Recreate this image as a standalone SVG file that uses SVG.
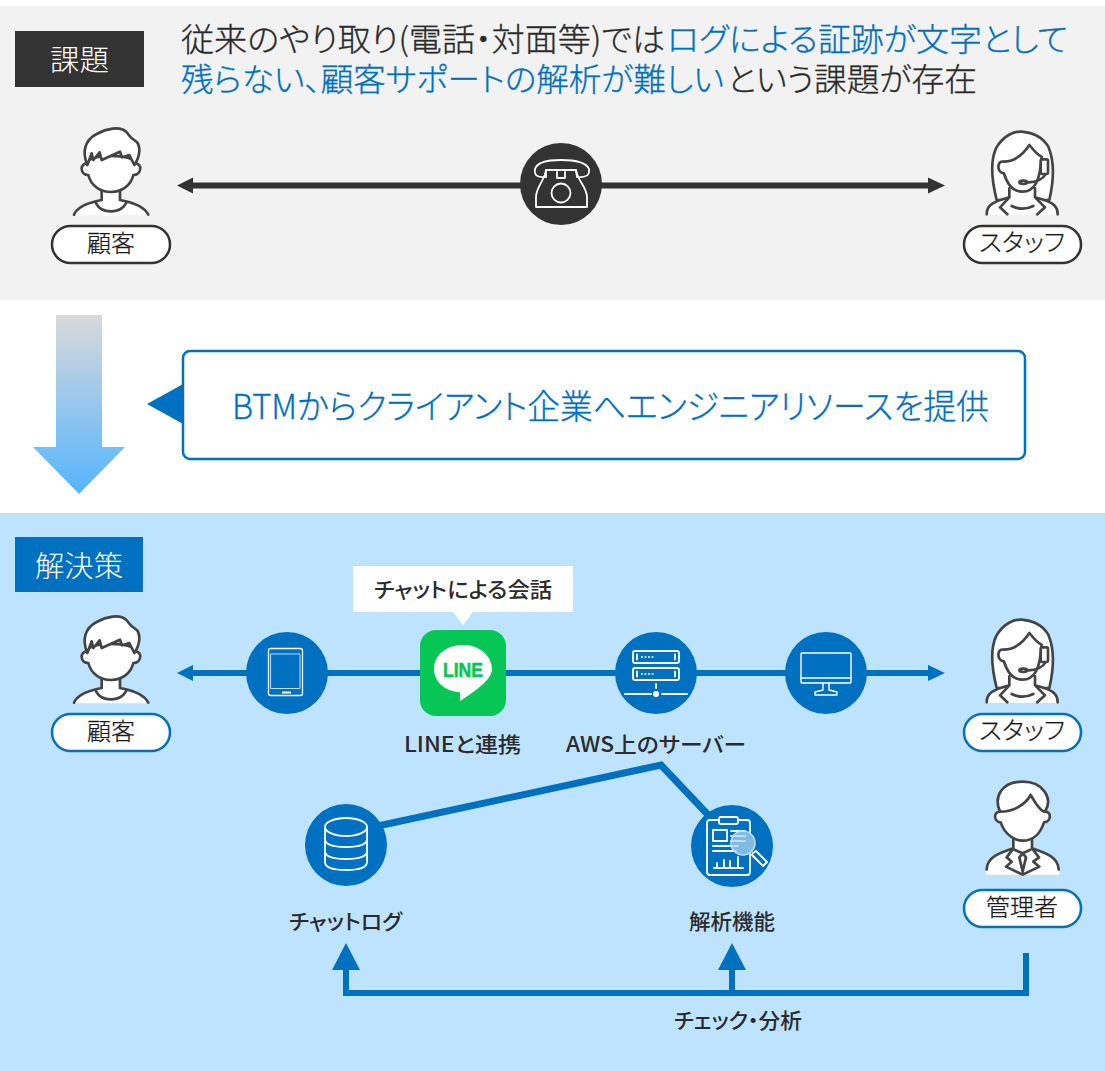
<svg xmlns="http://www.w3.org/2000/svg" width="1105" height="1071" viewBox="0 0 1105 1071">
<style>
text{font-family:"Noto Sans CJK JP","Noto Sans",sans-serif;fill:#1f1f1f;font-feature-settings:"palt"}
.h{font-size:32px;fill:#2b2b2b;stroke:#2b2b2b;stroke-width:.3;font-weight:300}
.b{fill:#0070c0;stroke:#0070c0}
.lab{font-size:21px;font-weight:500;fill:#2b2b2b}
.pill{font-size:24px;font-weight:300;fill:#1a1a1a;stroke:#1a1a1a;stroke-width:.25}
.ic{fill:none;stroke:#fff;stroke-width:1.8;stroke-linejoin:round;stroke-linecap:round}
.p{fill:#fff;stroke:#444;stroke-width:8;stroke-linejoin:round;stroke-linecap:round}
.f{fill:#fff}
.pn{fill:none;stroke:#444;stroke-width:8;stroke-linejoin:round;stroke-linecap:round}
.link{fill:none;stroke:#0070c0;stroke-width:6}
</style>
<defs>
<linearGradient id="grad" x1="0" y1="0" x2="0" y2="1"><stop offset="0" stop-color="#d9d9d9"/><stop offset="1" stop-color="#55b5ff"/></linearGradient>
<g id="cust" transform="translate(0,110) scale(.33333)">
<path class="f" d="M220 316C232 290 262 278 305 270L305 235L360 235L360 270C403 278 433 290 447 316Z"/>
<path class="pn" d="M222 314C232 290 262 278 305 270V240M360 240V270C403 278 433 290 445 314M288 280C305 312 360 312 378 280"/>
<path class="p" d="M265 195C240 195 238 160 262 160C262 130 405 130 405 160C428 160 425 195 400 195C385 262 282 264 265 195Z"/>
<path class="p" d="M262 165C245 125 255 90 290 72C320 55 360 48 378 65C388 75 390 85 405 92C425 105 420 140 403 165L388 135L366 142L360 125L305 150L299 127L280 150L275 130Z"/>
</g>
<g id="staff" transform="translate(950,120) scale(.33333)">
<path class="p" d="M140 240C125 180 122 120 138 85C160 45 195 33 215 35C235 38 270 40 295 80C312 120 312 180 298 240Z"/>
<path class="f" d="M108 285C108 255 130 245 180 230L190 205H245L255 230C305 245 325 255 325 285Z"/>
<path class="pn" d="M110 283C110 255 130 245 178 232V205M323 283C323 255 305 245 255 232V205M178 232L150 262L172 283M255 232L285 262L262 283M185 258C205 268 230 268 250 258"/>
<path class="p" d="M160 125C140 120 140 160 162 160C175 205 200 215 218 215C250 215 270 190 275 110C262 105 250 90 238 75C215 110 190 125 160 125Z"/>
<rect class="p" x="272" y="118" width="22" height="44" rx="5"/>
<path class="pn" d="M285 165C280 175 262 187 235 187"/>
<ellipse class="p" cx="220" cy="187" rx="12" ry="5"/>
</g>
<g id="mgr" transform="translate(960,770) scale(.33333)">
<path class="f" d="M78 314C78 262 115 250 160 235L160 200H215V235C260 250 298 262 298 314Z"/>
<path class="pn" d="M80 298C82 262 115 250 160 235V205M296 298C294 262 260 250 216 235V205M160 235L140 262L155 275L138 290L188 314L238 290L220 275L237 262L216 235M165 240L188 250L210 240M188 250L178 262L188 305L198 262Z"/>
<path class="f" d="M120 125C100 125 100 155 122 157C135 195 165 212 188 212C215 212 240 195 252 157C275 155 275 125 255 125C240 60 135 60 120 125Z"/>
<path class="pn" d="M120 125C100 125 100 155 122 157C135 195 165 212 188 212C215 212 240 195 252 157C275 155 275 125 255 125"/>
<path class="p" d="M120 125C100 80 125 35 188 35C250 35 280 85 255 125C245 125 232 110 212 75C195 105 160 125 120 125Z"/>
</g>
</defs>

<rect width="1105" height="294" y="6" fill="#f2f2f2"/>
<rect width="1105" height="559" y="513" fill="#bee3ff"/>

<g id="connectors">
<path d="M190 185.500H930" stroke="#333" stroke-width="6" fill="none"/>
<path d="M177 185.500L193 177.500V193.500Z M945 185.500L928 177.500V193.500Z" fill="#333"/>
<path d="M190 673H930" class="link"/>
<path d="M177 673L193 665V681Z M945 673L928 665V681Z" fill="#0070c0"/>
<path d="M350 832L661 765L730 838" class="link" style="stroke-width:7"/>
<path d="M346 970V993H1026V953M732 970V993" class="link"/>
<path d="M346 943L360 970H332Z M732 943L746 970H718Z" fill="#0070c0"/>
<path d="M56 315H102V447H125L79 494L33 447H56Z" fill="url(#grad)"/>
<path d="M147 404L185 383V425Z" fill="#0070c0"/>
</g>

<g id="title-issue">
<rect x="15" y="31" width="129" height="56" fill="#333"/>
<text x="50" y="71" font-size="29" textLength="59" lengthAdjust="spacingAndGlyphs" style="fill:#fff;font-weight:300">課題</text>
<text class="h" x="181" y="51" textLength="484" lengthAdjust="spacingAndGlyphs">従来のやり取り(電話・対面等)では</text>
<text class="h b" x="667" y="51" textLength="401" lengthAdjust="spacingAndGlyphs">ログによる証跡が文字として</text>
<text class="h b" x="181" y="91" textLength="543" lengthAdjust="spacingAndGlyphs">残らない、顧客サポートの解析が難しい</text>
<text class="h" x="727" y="91" textLength="250" lengthAdjust="spacingAndGlyphs">という課題が存在</text>
</g>

<g id="customer-top"><use href="#cust"/>
<rect x="52" y="226" width="118" height="37" rx="18.500" fill="#fff" stroke="#333" stroke-width="2.500"/>
<text class="pill" x="87" y="252" textLength="48" lengthAdjust="spacingAndGlyphs">顧客</text></g>

<g id="phone">
<circle cx="561" cy="184" r="41" fill="#333"/>
<path class="ic" d="M546 177C537 178 534 175 535 169C537 162 547 160 561 160C575 160 586 162 589 169C590 175 586 178 577 177L576 170H546Z"/>
<path class="ic" d="M546 170C545 180 536 187 536 197V207H587V197C587 187 577 180 576 170M557 172V178H565V172"/>
<circle class="ic" cx="561" cy="193" r="9.500"/>
</g>

<g id="staff-top"><use href="#staff"/>
<rect x="964" y="226" width="117" height="37" rx="18.500" fill="#fff" stroke="#333" stroke-width="2.500"/>
<text class="pill" x="979" y="251" textLength="86" lengthAdjust="spacingAndGlyphs">スタッフ</text></g>

<g id="callout">
<rect x="183" y="351" width="842" height="108" rx="7" fill="#fff" stroke="#0070c0" stroke-width="2.500"/>
<text x="232" y="419" font-size="34" textLength="757" lengthAdjust="spacingAndGlyphs" style="fill:#0070c0;stroke:#0070c0;stroke-width:.3;font-weight:300">BTMからクライアント企業へエンジニアリソースを提供</text>
</g>

<g id="title-solution">
<rect x="15" y="537" width="128" height="55" fill="#0070c0"/>
<text x="35" y="577" font-size="29" textLength="88" lengthAdjust="spacingAndGlyphs" style="fill:#fff;font-weight:300">解決策</text>
</g>

<g id="customer-bottom"><use href="#cust" y="488"/>
<rect x="52" y="714" width="118" height="37" rx="18.500" fill="#fff" stroke="#0070c0" stroke-width="2.500"/>
<text class="pill" x="87" y="740" textLength="48" lengthAdjust="spacingAndGlyphs">顧客</text></g>

<g id="tablet">
<circle cx="287" cy="673" r="41" fill="#0070c0"/>
<rect class="ic" x="268.500" y="648.500" width="34" height="47" rx="2" style="stroke-width:1.300"/>
<path class="ic" d="M271 654H300V688.500H271Z" style="stroke-width:1;stroke:#bfe0f7"/>
<path d="M282 692.500H291" stroke="#fff" stroke-width="2"/>
</g>

<g id="chat-bubble">
<rect x="353" y="566" width="220" height="46" fill="#fff"/>
<path d="M453 612H473L463 625Z" fill="#fff"/>
<text class="lab" x="374" y="597" textLength="178" lengthAdjust="spacingAndGlyphs">チャットによる会話</text>
</g>

<g id="line">
<rect x="420" y="630" width="86" height="86" rx="16" fill="#06c755"/>
<path d="M463 645C444 645 434 657 434 669C434 681 444 691 459 692C461 693 460 697 460 701C468 696 481 687 487 680C490 676 492 673 492 669C492 657 481 645 463 645Z" fill="#fff"/>
<text x="443" y="677" font-size="21" textLength="40" lengthAdjust="spacingAndGlyphs" style="fill:#06c755;stroke:#06c755;stroke-width:.6;font-weight:700;font-family:'Liberation Sans',sans-serif">LINE</text>
<text class="lab" x="404" y="752" textLength="117" lengthAdjust="spacingAndGlyphs">LINEと連携</text>
</g>

<g id="server">
<circle cx="656" cy="673" r="41" fill="#0070c0"/>
<rect class="ic" x="633" y="651" width="46" height="12" rx="2"/>
<rect class="ic" x="633" y="668" width="46" height="12" rx="2"/>
<path class="ic" d="M637 654.500V659.500M637 671.500V676.500M675 654.500V659.500M675 671.500V676.500"/>
<path d="M641 657H655M641 674H655" fill="none" stroke="#fff" stroke-width="1.600" stroke-dasharray="2 1.500"/>
<path class="ic" d="M656 684V688M625 694H651M662 694H687"/>
<circle cx="656" cy="694" r="3" fill="#fff"/>
<text class="lab" x="566" y="752" textLength="180" lengthAdjust="spacingAndGlyphs">AWS上のサーバー</text>
</g>

<g id="monitor">
<circle cx="826" cy="673" r="41" fill="#0070c0"/>
<rect class="ic" x="801" y="653" width="50" height="30" rx="1" style="stroke-width:1.400"/>
<path class="ic" d="M801 678H851M823 683V690L815 692V695H837V692L829 690V683" style="stroke-width:1.400"/>
</g>

<g id="staff-bottom"><use href="#staff" y="488"/>
<rect x="964" y="714" width="117" height="37" rx="18.500" fill="#fff" stroke="#0070c0" stroke-width="2.500"/>
<text class="pill" x="979" y="739" textLength="86" lengthAdjust="spacingAndGlyphs">スタッフ</text></g>

<g id="chat-log">
<circle cx="346" cy="845" r="41" fill="#0070c0"/>
<path class="ic" d="M325 827V862C325 868 335 870 346 870C357 870 367 868 367 862V827M325 839C325 845 335 847 346 847C357 847 367 845 367 839M325 851C325 857 335 859 346 859C357 859 367 857 367 851"/>
<ellipse class="ic" cx="346" cy="827" rx="21" ry="9"/>
<text class="lab" x="289" y="929" textLength="113" lengthAdjust="spacingAndGlyphs">チャットログ</text>
</g>

<g id="analysis">
<circle cx="732" cy="846" r="41" fill="#0070c0"/>
<path class="ic" d="M719 820H710C708 820 707 821 707 823V872C707 874 708 875 710 875H747C749 875 750 874 750 872V854M750 832V823C750 821 749 820 747 820H738"/>
<rect class="ic" x="719" y="817" width="19" height="7" rx="2"/>
<rect class="ic" x="713" y="830" width="14" height="11"/>
<path class="ic" d="M713 846H738M713 851H736M714 868H743M717 868V863M724 868V860M730 868V861M738 868V857M731 831H745M731 836H745M731 841H745"/>
<circle cx="743" cy="843" r="12" fill="#a9d4f2" fill-opacity=".75" stroke="#bfe0f7" stroke-width="1.500"/>
<path class="ic" d="M753 853L756 851L767 862L763 866L752 855Z"/>
<text class="lab" x="689" y="929" textLength="86" lengthAdjust="spacingAndGlyphs">解析機能</text>
</g>

<g id="manager"><use href="#mgr"/>
<rect x="964" y="890" width="117" height="37" rx="18.500" fill="#fff" stroke="#0070c0" stroke-width="2.500"/>
<text class="pill" x="986" y="916" textLength="72" lengthAdjust="spacingAndGlyphs">管理者</text></g>

<text class="lab" x="674" y="1028" textLength="128" lengthAdjust="spacingAndGlyphs">チェック・分析</text>
</svg>
